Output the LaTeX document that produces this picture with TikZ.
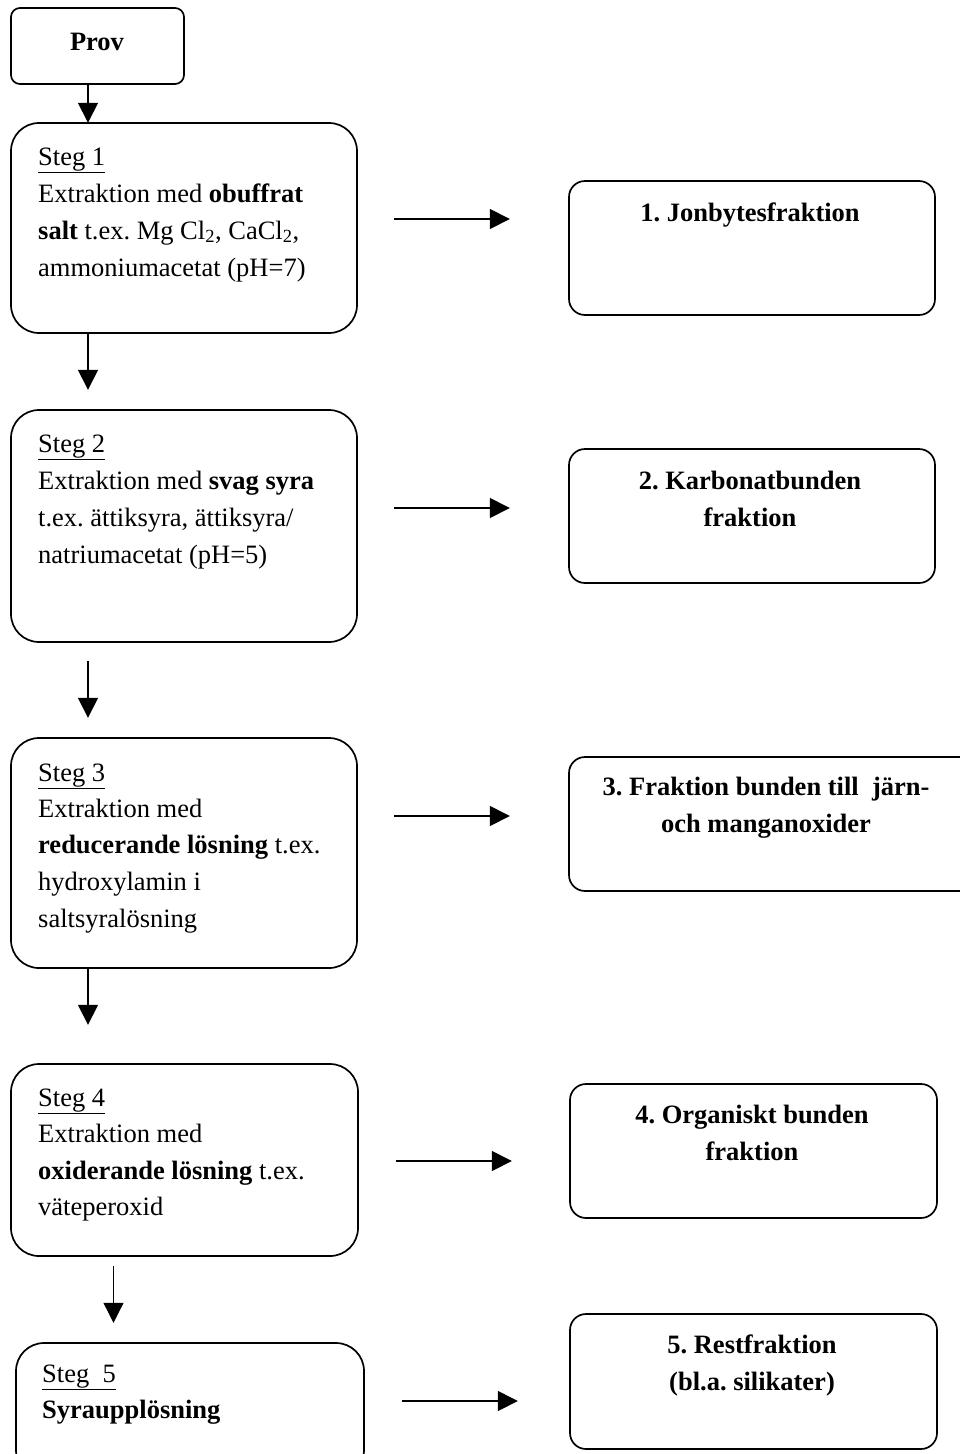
\documentclass[tikz,border=0pt]{standalone}
\usepackage{fontspec}
\setmainfont{Liberation Serif}
\usetikzlibrary{arrows.meta}
\frenchspacing
\begin{document}
\begin{tikzpicture}[x=1pt,y=-1pt,
  box/.style={draw,line width=1.7pt},
  txt/.style={anchor=base west,inner sep=0pt,font=\fontsize{26.5}{37}\selectfont},
  ctxt/.style={anchor=base,inner sep=0pt,font=\fontsize{26.5}{37}\selectfont\bfseries},
  arr/.style={line width=1.5pt,-{Triangle[length=20pt,width=20pt]}},
  thinarr/.style={line width=1pt,-{Triangle[length=20pt,width=20pt]}}]
\useasboundingbox (0,0) rectangle (960,1454);
% left boxes
\draw[box,rounded corners=9pt] (11,8) rectangle (184,84);
\node[inner sep=0pt,minimum width=173pt,minimum height=76pt] (prov) at (97.5,46) {};
\draw[box,rounded corners=28pt] (11,123) rectangle (357,333);
\node[inner sep=0pt,minimum width=346pt,minimum height=210pt] (s1) at (184,228) {};
\draw[box,rounded corners=28pt] (11,410) rectangle (357,642);
\node[inner sep=0pt,minimum width=346pt,minimum height=232pt] (s2) at (184,526) {};
\draw[box,rounded corners=28pt] (11,738) rectangle (357,968);
\node[inner sep=0pt,minimum width=346pt,minimum height=230pt] (s3) at (184,853) {};
\draw[box,rounded corners=28pt] (11,1064) rectangle (358,1256);
\node[inner sep=0pt,minimum width=347pt,minimum height=192pt] (s4) at (184.5,1160) {};
\draw[box,rounded corners=28pt] (16,1343) rectangle (364,1478);
\node[inner sep=0pt,minimum width=348pt,minimum height=135pt] (s5) at (190,1410.5) {};
% right boxes
\draw[box,rounded corners=16pt] (569,181) rectangle (935,315);
\node[inner sep=0pt,minimum width=366pt,minimum height=134pt] (b1) at (752,248) {};
\draw[box,rounded corners=16pt] (569,449) rectangle (935,583);
\node[inner sep=0pt,minimum width=366pt,minimum height=134pt] (b2) at (752,516) {};
\draw[box,rounded corners=16pt] (569,757) rectangle (975,891);
\node[inner sep=0pt,minimum width=406pt,minimum height=134pt] (b3) at (772,824) {};
\draw[box,rounded corners=16pt] (570,1084) rectangle (937,1218);
\node[inner sep=0pt,minimum width=367pt,minimum height=134pt] (b4) at (753.5,1151) {};
\draw[box,rounded corners=16pt] (570,1314) rectangle (937,1449);
\node[inner sep=0pt,minimum width=367pt,minimum height=135pt] (b5) at (753.5,1381.5) {};
% texts
\node[ctxt] (tprov) at (97,50) {Prov};
\node[txt] (t1a) at (38,165) {\underline{Steg 1}};
\node[txt] (t1b) at (38,202) {Extraktion med \textbf{obuffrat}};
\node[txt] (t1c) at (38,239) {\textbf{salt} t.ex. Mg Cl\textsubscript{2}, CaCl\textsubscript{2},};
\node[txt] (t1d) at (38,276) {ammoniumacetat (pH=7)};
\node[txt] (t2a) at (38,452) {\underline{Steg 2}};
\node[txt] (t2b) at (38,489) {Extraktion med \textbf{svag syra}};
\node[txt] (t2c) at (38,526) {t.ex. ättiksyra, ättiksyra/};
\node[txt] (t2d) at (38,563) {natriumacetat (pH=5)};
\node[txt] (t3a) at (38,781) {\underline{Steg 3}};
\node[txt] (t3b) at (38,817) {Extraktion med};
\node[txt] (t3c) at (38,853) {\textbf{reducerande lösning} t.ex.};
\node[txt] (t3d) at (38,890) {hydroxylamin i};
\node[txt] (t3e) at (38,927) {saltsyralösning};
\node[txt] (t4a) at (38,1106) {\underline{Steg 4}};
\node[txt] (t4b) at (38,1142) {Extraktion med};
\node[txt] (t4c) at (38,1179) {\textbf{oxiderande lösning} t.ex.};
\node[txt] (t4d) at (38,1215) {väteperoxid};
\node[txt] (t5a) at (42,1382) {\underline{Steg\ \ 5}};
\node[txt] (t5b) at (42,1418) {\textbf{Syraupplösning}};
\node[ctxt] (tb1) at (750,221) {1. Jonbytesfraktion};
\node[ctxt] (tb2a) at (750,489) {2. Karbonatbunden};
\node[ctxt] (tb2b) at (750,526) {fraktion};
\node[ctxt] (tb3a) at (766,795) {3. Fraktion bunden till\ \ järn-};
\node[ctxt] (tb3b) at (766,832) {och manganoxider};
\node[ctxt] (tb4a) at (752,1123) {4. Organiskt bunden};
\node[ctxt] (tb4b) at (752,1160) {fraktion};
\node[ctxt] (tb5a) at (752,1353) {5. Restfraktion};
\node[ctxt] (tb5b) at (752,1390) {(bl.a. silikater)};
% vertical arrows
\coordinate (xa) at (88,0);
\coordinate (xb) at (113.5,0);
\draw[arr] (prov.south -| xa) -- (s1.north -| xa);
\draw[arr,shorten >=20pt] (s1.south -| xa) -- (s2.north -| xa);
\draw[arr,shorten <=19pt,shorten >=20pt] (s2.south -| xa) -- (s3.north -| xa);
\draw[arr,shorten >=39pt] (s3.south -| xa) -- (s4.north -| xa);
\draw[thinarr,shorten <=10pt,shorten >=20pt] (s4.south -| xb) -- (s5.north -| xb);
% horizontal arrows
\draw[arr,shorten <=37pt,shorten >=59pt] (s1.east |- 0,219) -- (b1.west |- 0,219);
\draw[arr,shorten <=37pt,shorten >=59pt] (s2.east |- 0,508) -- (b2.west |- 0,508);
\draw[arr,shorten <=37pt,shorten >=59pt] (s3.east |- 0,816) -- (b3.west |- 0,816);
\draw[arr,shorten <=38pt,shorten >=58pt] (s4.east |- 0,1161) -- (b4.west |- 0,1161);
\draw[arr,shorten <=38pt,shorten >=52pt] (s5.east |- 0,1401) -- (b5.west |- 0,1401);
\end{tikzpicture}
\end{document}
